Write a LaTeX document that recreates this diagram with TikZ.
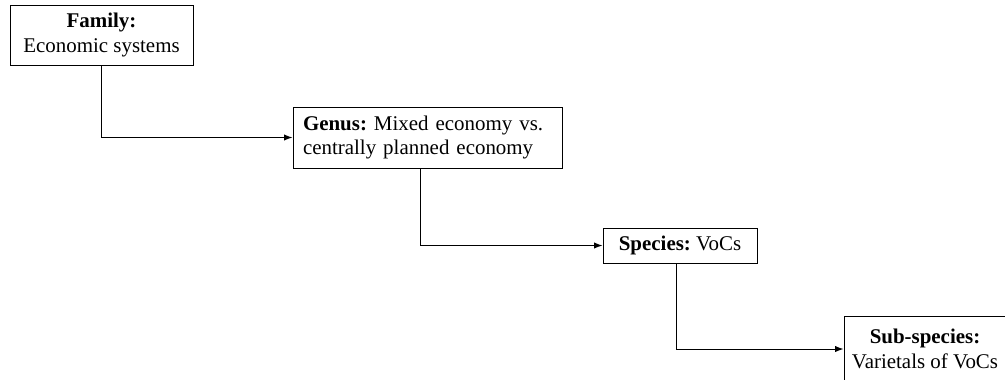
\documentclass[tikz,border=0pt]{standalone}
\usepackage{fontspec}
\setmainfont{Liberation Serif}
\usetikzlibrary{arrows.meta,positioning}
\frenchspacing

\begin{document}
\begin{tikzpicture}[x=0.75pt, y=-0.75pt]
		\tikzstyle{every node}=[font=\fontsize{15.7}{18.2}\selectfont]
		\tikzstyle{box}=[draw, line width=0.75pt, inner sep=0pt, align=center]
		\useasboundingbox (0,0) rectangle (1005,379);
		\node [box, minimum width=137.25pt, minimum height=45pt] (fam) at (101.5,35) {\textbf{Family:}\\Economic systems};
		\node [box, text width=186.75pt, inner xsep=7.5pt, minimum height=45.75pt, align=left] (gen) at (427.5,137.5) {\textbf{Genus:} Mixed economy vs.\\centrally planned economy};
		\node [box, minimum width=115.5pt, minimum height=26.25pt] (spe) at (680,245.5) {\textbf{Species:} VoCs};
		\node [box, minimum width=121.5pt, minimum height=49pt] (sub) at (925,349) {\textbf{Sub-species:}\\Varietals of VoCs};
		\draw [line width=0.75pt, ->, >=Latex] (fam.south) |- (gen.west);
		\draw [line width=0.75pt, ->, >=Latex] ([xshift=-5.6pt]gen.south) |- (spe.west);
		\draw [line width=0.75pt, ->, >=Latex] ([xshift=-3pt]spe.south) |- (sub.west);
	\end{tikzpicture}
\end{document}
